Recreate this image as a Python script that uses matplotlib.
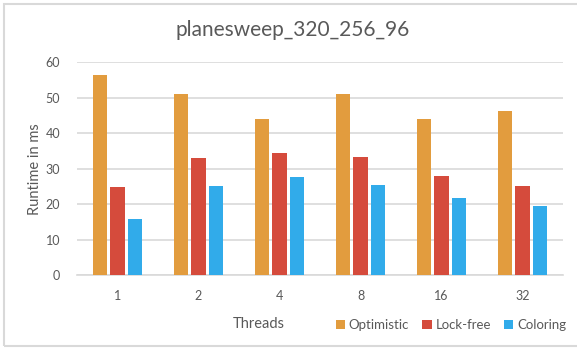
import matplotlib
matplotlib.use("Agg")
import matplotlib.pyplot as plt
import numpy as np
from matplotlib.patches import Rectangle, Patch

threads = ["1", "2", "4", "8", "16", "32"]
optimistic = [56.3, 51.0, 43.9, 51.0, 43.9, 46.4]
lock_free = [24.8, 33.0, 34.4, 33.3, 28.0, 25.2]
coloring = [15.8, 25.1, 27.6, 25.3, 21.8, 19.5]
series_names = ["Optimistic", "Lock-free", "Coloring"]
colors = ["#E29C3E", "#D54B3C", "#31ABEA"]
yticks = [0, 10, 20, 30, 40, 50, 60]

plt.rcParams["font.family"] = ["Lato", "DejaVu Sans"]
text_color = "#595959"

fig = plt.figure(figsize=(5.77, 3.49), dpi=100)
W, H = 577, 349

# light frame around the chart area
fig.patches.append(Rectangle((3.5 / W, 3.5 / H), 1.2, (H - 7) / H,
                             transform=fig.transFigure, fill=False,
                             edgecolor="#D9D9D9", linewidth=1.5))

ax = fig.add_axes([77 / W, 1 - 275 / H, (563 - 77) / W, (275 - 62.3) / H])

x = np.arange(len(threads))
width = 0.173
step = 0.222
for i, (vals, c) in enumerate(zip([optimistic, lock_free, coloring], colors)):
    ax.bar(x + (i - 1) * step, vals, width, color=c, zorder=3)

ax.set_xlim(-0.5, len(threads) - 0.5)
ax.set_ylim(0, 60)
ax.set_yticks(yticks)
ax.set_yticklabels([str(v) for v in yticks])
ax.set_xticks(x)
ax.set_xticklabels(threads)
ax.grid(axis="y", color="#D9D9D9", linewidth=1.2, zorder=0)
for s in ["top", "right", "left"]:
    ax.spines[s].set_visible(False)
ax.spines["bottom"].set_color("#D9D9D9")
ax.spines["bottom"].set_linewidth(1.2)
ax.tick_params(length=0, colors=text_color, labelsize=9)
ax.tick_params(axis="y", pad=12)
ax.tick_params(axis="x", pad=11)

ax.set_ylabel("Runtime in ms", color=text_color, fontsize=10.5, labelpad=3)

fig.text(292.5 / W, 1 - 30 / H, "planesweep_320_256_96", ha="center", va="center",
         fontsize=15, color=text_color)
fig.text(259 / W, 1 - 324 / H, "Threads", ha="center", va="center",
         fontsize=10.5, color=text_color)

handles = [Patch(facecolor=c, label=n) for c, n in zip(colors, series_names)]
fig.legend(handles=handles, loc="center", bbox_to_anchor=(451 / W, 1 - 325 / H),
           ncol=3, frameon=False, fontsize=9.5, handlelength=0.7, handleheight=0.7,
           handletextpad=0.3, columnspacing=1.0, labelcolor=text_color,
           borderaxespad=0)

fig.savefig("out.png", dpi=100)
